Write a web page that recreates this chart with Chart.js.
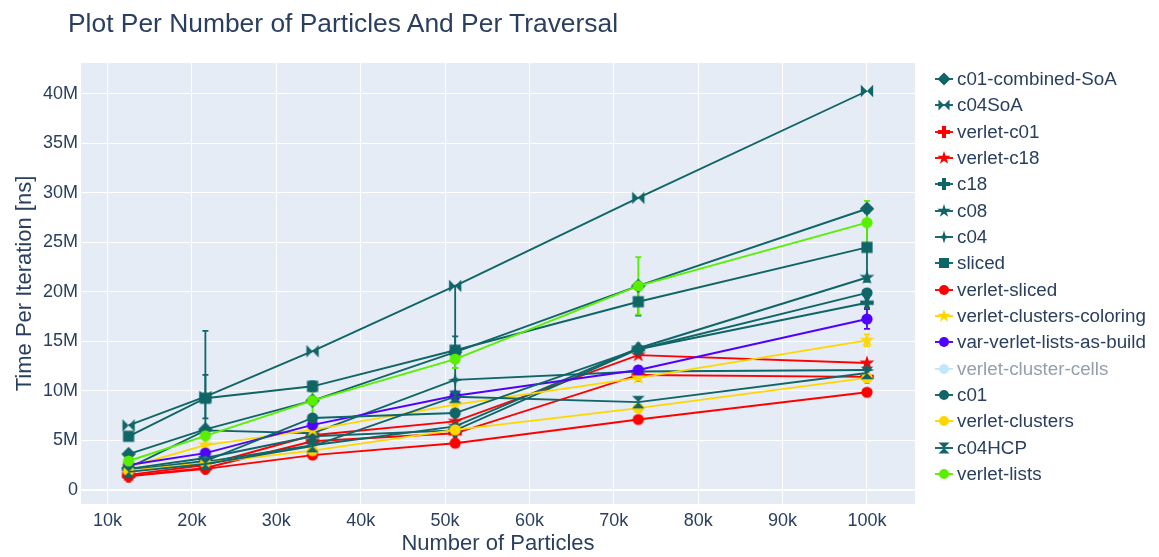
<!DOCTYPE html>
<html lang="en">
<head>
  <meta charset="UTF-8">
  <title>Plot Per Number of Particles And Per Traversal</title>
  <script src="https://cdn.jsdelivr.net/npm/chart.js"></script>
  <style>
    body {
      margin: 0;
      background: #fff;
      font-family: 'Liberation Sans', Arial, sans-serif;
      color: #2a3f5f;
    }
    .wrap {
      position: relative;
      width: 1159px;
      height: 557px;
      overflow: hidden;
    }
    .wrap canvas#chart {
      position: absolute;
      left: 0;
      top: 0;
    }
    .title {
      position: absolute;
      left: 68px;
      top: 10px;
      font-size: 26.4px;
      line-height: 26px;
      white-space: nowrap;
    }
    .legend {
      position: absolute;
      left: 930px;
      top: 66px;
    }
    .legend .item {
      display: flex;
      align-items: center;
      height: 26.33px;
      font-size: 18.8px;
      white-space: nowrap;
    }
    .legend .item.off {
      color: #949fae;
    }
    .legend .item.off canvas {
      opacity: 0.5;
    }
  </style>
</head>
<body>
  <div class="wrap">
    <canvas id="chart" width="1159" height="557"></canvas>
    <div class="title">Plot Per Number of Particles And Per Traversal</div>
    <div class="legend" id="legend"></div>
  </div>

  <script>
    // number of particles
    const particles = [12500, 21600, 34300, 51200, 72900, 100000];
    const xTicks = [10000, 20000, 30000, 40000, 50000, 60000, 70000, 80000, 90000, 100000];
    const yTicks = [0, 5, 10, 15, 20, 25, 30, 35, 40];

    // time per iteration, in millions of ns
    const c01CombinedSoA = [3.6, 6.1, 9.0, 13.9, 20.6, 28.4];
    const c04SoA = [6.5, 9.4, 14.0, 20.6, 29.5, 40.3];
    const verletC01 = [1.4, 2.2, 4.9, 5.7, 11.6, 11.4];
    const verletC18 = [1.5, 2.5, 5.5, 6.9, 13.6, 12.8];
    const c18 = [2.1, 3.2, 5.4, 6.0, 14.2, 18.9];
    const c08 = [1.9, 2.8, 4.5, 6.4, 14.3, 21.45];
    const c04 = [2.2, 6.0, 5.7, 11.1, 11.95, 12.1];
    const sliced = [5.4, 9.25, 10.45, 14.1, 19.0, 24.5];
    const verletSliced = [1.35, 2.1, 3.5, 4.7, 7.1, 9.85];
    const verletClustersColoring = [2.3, 4.5, 6.05, 8.6, 11.3, 15.1];
    const varVerletListsAsBuild = [2.5, 3.7, 6.55, 9.5, 12.1, 17.25];
    const verletClusterCells = []; // hidden in the legend
    const c01 = [2.0, 2.9, 7.25, 7.75, 14.2, 19.9];
    const verletClusters = [1.9, 2.7, 3.95, 6.05, 8.25, 11.3];
    const c04HCP = [1.8, 2.6, 4.4, 9.4, 8.85, 11.8];
    const verletLists = [2.9, 5.45, 9.0, 13.2, 20.6, 27.0];

    // symmetric error bars (millions of ns), 0 = none
    const errC01CombinedSoA = [0, 0, 0, 1.6, 0, 0];
    const errC04SoA = [0, 2.2, 0, 0, 0, 0];
    const errSliced = [0, 6.8, 0.5, 6.5, 1.4, 3.5];
    const errVerletLists = [0, 0, 1.6, 0.9, 2.9, 2.2];
    const errVarVerlet = [0, 0, 0, 0, 0.4, 1.0];
    const errClustersColoring = [0, 0, 0, 0, 0, 0.6];
    const errC18 = [0, 0, 0, 0, 0, 0.5];

    const TEAL = '#106567';
    const RED = '#ff0000';
    const YELLOW = '#ffd700';
    const PURPLE = '#5000ff';
    const GREEN = '#58f000';
    const LIGHTBLUE = '#87cefa';

    const series = [
      { name: 'c01-combined-SoA', data: c01CombinedSoA, color: TEAL, symbol: 'diamond', err: errC01CombinedSoA },
      { name: 'c04SoA', data: c04SoA, color: TEAL, symbol: 'bowtie', err: errC04SoA },
      { name: 'verlet-c01', data: verletC01, color: RED, symbol: 'cross' },
      { name: 'verlet-c18', data: verletC18, color: RED, symbol: 'star' },
      { name: 'c18', data: c18, color: TEAL, symbol: 'cross', err: errC18 },
      { name: 'c08', data: c08, color: TEAL, symbol: 'star' },
      { name: 'c04', data: c04, color: TEAL, symbol: 'star-diamond' },
      { name: 'sliced', data: sliced, color: TEAL, symbol: 'square', err: errSliced },
      { name: 'verlet-sliced', data: verletSliced, color: RED, symbol: 'circle' },
      { name: 'verlet-clusters-coloring', data: verletClustersColoring, color: YELLOW, symbol: 'star', err: errClustersColoring },
      { name: 'var-verlet-lists-as-build', data: varVerletListsAsBuild, color: PURPLE, symbol: 'circle', err: errVarVerlet },
      { name: 'verlet-cluster-cells', data: verletClusterCells, color: LIGHTBLUE, symbol: 'circle', hidden: true },
      { name: 'c01', data: c01, color: TEAL, symbol: 'circle' },
      { name: 'verlet-clusters', data: verletClusters, color: YELLOW, symbol: 'circle' },
      { name: 'c04HCP', data: c04HCP, color: TEAL, symbol: 'hourglass' },
      { name: 'verlet-lists', data: verletLists, color: GREEN, symbol: 'circle', err: errVerletLists }
    ];

    // plotly-like marker shapes
    function drawSymbol(ctx, symbol, cx, cy, r, color) {
      ctx.save();
      ctx.translate(cx, cy);
      ctx.fillStyle = color;
      ctx.beginPath();
      if (symbol === 'circle') {
        ctx.arc(0, 0, r, 0, Math.PI * 2);
      } else if (symbol === 'square') {
        ctx.rect(-r, -r, 2 * r, 2 * r);
      } else if (symbol === 'diamond') {
        const d = r * 1.3;
        ctx.moveTo(d, 0); ctx.lineTo(0, d); ctx.lineTo(-d, 0); ctx.lineTo(0, -d);
      } else if (symbol === 'cross') {
        const a = r * 0.4, b = r * 1.2;
        ctx.moveTo(b, a); ctx.lineTo(a, a); ctx.lineTo(a, b); ctx.lineTo(-a, b);
        ctx.lineTo(-a, a); ctx.lineTo(-b, a); ctx.lineTo(-b, -a); ctx.lineTo(-a, -a);
        ctx.lineTo(-a, -b); ctx.lineTo(a, -b); ctx.lineTo(a, -a); ctx.lineTo(b, -a);
      } else if (symbol === 'star') {
        const s = r * 1.4;
        const x1 = s * 0.225, x2 = s * 0.951, x3 = s * 0.363, x4 = s * 0.588;
        const y0 = -s, y1 = s * -0.309, y3 = s * 0.118, y4 = s * 0.809, y2 = s * 0.382;
        ctx.moveTo(x1, y1); ctx.lineTo(x2, y1); ctx.lineTo(x3, y3); ctx.lineTo(x4, y4);
        ctx.lineTo(0, y2); ctx.lineTo(-x4, y4); ctx.lineTo(-x3, y3); ctx.lineTo(-x2, y1);
        ctx.lineTo(-x1, y1); ctx.lineTo(0, y0);
      } else if (symbol === 'star-diamond') {
        const R = r * 1.3, a = r * 0.3;
        ctx.moveTo(0, -R); ctx.lineTo(a, -a); ctx.lineTo(R, 0); ctx.lineTo(a, a);
        ctx.lineTo(0, R); ctx.lineTo(-a, a); ctx.lineTo(-R, 0); ctx.lineTo(-a, -a);
      } else if (symbol === 'hourglass') {
        const h = r * 1.1;
        ctx.moveTo(h, h); ctx.lineTo(-h, h); ctx.lineTo(h, -h); ctx.lineTo(-h, -h);
      } else if (symbol === 'bowtie') {
        const h = r * 1.1;
        ctx.moveTo(h, h); ctx.lineTo(h, -h); ctx.lineTo(-h, h); ctx.lineTo(-h, -h);
      }
      ctx.closePath();
      ctx.fill();
      ctx.restore();
    }

    function markerCanvas(symbol, color) {
      const c = document.createElement('canvas');
      c.width = 20; c.height = 20;
      drawSymbol(c.getContext('2d'), symbol, 10, 10, 5.6, color);
      return c;
    }

    // background of the plot area
    const plotBg = {
      id: 'plotBg',
      beforeDraw(chart) {
        const { ctx, chartArea: a } = chart;
        ctx.save();
        ctx.fillStyle = '#e5ecf6';
        ctx.fillRect(a.left, a.top, a.right - a.left, a.bottom - a.top);
        ctx.restore();
      }
    };

    // error bars drawn below the markers
    const errorBars = {
      id: 'errorBars',
      beforeDatasetsDraw(chart) {
        const { ctx, scales: { x, y } } = chart;
        ctx.save();
        ctx.lineWidth = 1.8;
        series.forEach(s => {
          if (!s.err || s.hidden) return;
          ctx.strokeStyle = s.color;
          s.err.forEach((e, i) => {
            if (!e) return;
            const px = x.getPixelForValue(particles[i]);
            const top = y.getPixelForValue(s.data[i] + e);
            const bot = y.getPixelForValue(s.data[i] - e);
            ctx.beginPath();
            ctx.moveTo(px, top); ctx.lineTo(px, bot);
            ctx.moveTo(px - 3, top); ctx.lineTo(px + 3, top);
            ctx.moveTo(px - 3, bot); ctx.lineTo(px + 3, bot);
            ctx.stroke();
          });
        });
        ctx.restore();
      }
    };

    const FONT = "'Liberation Sans', Arial, sans-serif";
    const n = series.length;

    new Chart(document.getElementById('chart'), {
      type: 'line',
      data: {
        datasets: series.map((s, i) => ({
          label: s.name,
          data: s.data.map((v, k) => ({ x: particles[k], y: v })),
          borderColor: s.color,
          backgroundColor: s.color,
          borderWidth: 1.9,
          pointStyle: markerCanvas(s.symbol, s.color),
          pointRadius: 5,
          hidden: !!s.hidden,
          order: n - i,
          tension: 0
        }))
      },
      options: {
        responsive: false,
        animation: false,
        layout: { padding: { top: 63, right: 244, left: 0, bottom: 0 } },
        plugins: {
          legend: { display: false },
          tooltip: { enabled: false }
        },
        scales: {
          x: {
            type: 'linear',
            min: 6860,
            max: 105690,
            afterBuildTicks: sc => { sc.ticks = xTicks.map(v => ({ value: v })); },
            afterFit: sc => { sc.height = 53; },
            border: { display: false },
            grid: { color: '#ffffff', lineWidth: 1, drawTicks: false },
            ticks: {
              padding: 6,
              color: '#2a3f5f',
              font: { family: FONT, size: 18 },
              maxRotation: 0,
              callback: v => (v / 1000) + 'k'
            },
            title: {
              display: true,
              text: 'Number of Particles',
              color: '#2a3f5f',
              font: { family: FONT, size: 22 },
              padding: { top: 0, bottom: 0 }
            }
          },
          y: {
            min: -1.445,
            max: 43.13,
            afterBuildTicks: sc => { sc.ticks = yTicks.map(v => ({ value: v })); },
            afterFit: sc => { sc.width = 81; },
            border: { display: false },
            grid: {
              color: '#ffffff',
              lineWidth: c => (c.tick && c.tick.value === 0 ? 2 : 1),
              drawTicks: false
            },
            ticks: {
              padding: 3,
              color: '#2a3f5f',
              font: { family: FONT, size: 18 },
              callback: v => (v === 0 ? '0' : v + 'M')
            },
            title: {
              display: true,
              text: 'Time Per Iteration [ns]',
              color: '#2a3f5f',
              font: { family: FONT, size: 22 },
              padding: { top: 12, bottom: 0 }
            }
          }
        }
      },
      plugins: [plotBg, errorBars]
    });

    // legend: line segment + marker, then the name
    const legend = document.getElementById('legend');
    series.forEach(s => {
      const item = document.createElement('div');
      item.className = 'item' + (s.hidden ? ' off' : '');
      const c = document.createElement('canvas');
      c.width = 27; c.height = 20;
      const g = c.getContext('2d');
      g.strokeStyle = s.color;
      g.lineWidth = 1.9;
      g.beginPath(); g.moveTo(5, 10); g.lineTo(23, 10); g.stroke();
      drawSymbol(g, s.symbol, 14, 10, 5, s.color);
      const t = document.createElement('span');
      t.textContent = s.name;
      item.appendChild(c);
      item.appendChild(t);
      legend.appendChild(item);
    });
  </script>
</body>
</html>
